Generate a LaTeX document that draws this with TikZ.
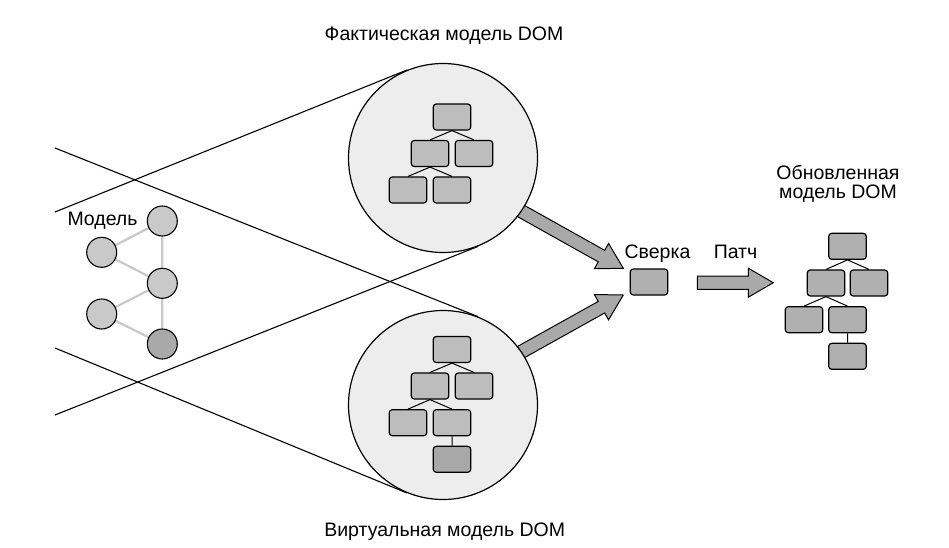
\documentclass[tikz,border=0pt]{standalone}
\usepackage{fontspec}
\setmainfont{Liberation Sans}
\usetikzlibrary{calc,backgrounds}
\definecolor{circfill}{HTML}{EDEDED}
\definecolor{boxfill}{HTML}{BDBDBD}
\definecolor{boxdark}{HTML}{A8A8A8}
\definecolor{updfill}{HTML}{B0B0B0}
\definecolor{arrfill}{HTML}{A9A9A9}
\definecolor{modfill}{HTML}{C9C9C9}
\definecolor{moddark}{HTML}{A9A9A9}
\definecolor{edgegray}{HTML}{C8C8C8}
\newcommand\blkarrow[2]{%
  \path ($(#2)!25pt!(#1)$) coordinate (hb#1);
  \draw[arrowst] ($(#1)!6.6pt!90:(#2)$) -- ($(hb#1)!6.6pt!90:(#2)$) -- ($(hb#1)!14.5pt!90:(#2)$) -- (#2)
    -- ($(hb#1)!14.5pt!-90:(#2)$) -- ($(hb#1)!6.6pt!-90:(#2)$) -- ($(#1)!6.6pt!-90:(#2)$) -- cycle;
}
\begin{document}
\begin{tikzpicture}[x=1pt,y=-1pt,
  lbl/.style={font=\fontsize{19.5}{18.4}\selectfont, inner sep=0, anchor=base},
  lens/.style={circle, draw, line width=1.2pt, fill=circfill, minimum size=189pt, inner sep=0},
  dbox/.style={draw, line width=1.2pt, rounded corners=3pt, fill=boxfill, minimum width=37.5pt, minimum height=26pt, inner sep=0},
  tline/.style={line width=1.1pt},
  tree/.style={line width=1pt},
  mnode/.style={circle, draw, line width=1.1pt, fill=modfill, minimum size=30pt, inner sep=0},
  medge/.style={draw=edgegray, line width=2.2pt},
  arrowst/.style={draw, line width=1pt, fill=arrfill, line join=miter},
]
\useasboundingbox (0,0) rectangle (949,547);

% lens circles (positions only, drawn later)
\path node[lens, draw=none, fill=none] (top) at (443,158) {}
      node[lens, draw=none, fill=none] (bot) at (443,405) {};

% start points of tangent lines
\coordinate (s1) at (55,148);
\coordinate (s2) at (55,212);
\coordinate (s3) at (55,348);
\coordinate (s4) at (55,415);
\draw[tline] (s1) -- (tangent cs:node=bot,point={(s1)},solution=2);
\draw[tline] (s2) -- (tangent cs:node=top,point={(s2)},solution=2);
\draw[tline] (s3) -- (tangent cs:node=bot,point={(s3)},solution=1);
\draw[tline] (s4) -- (tangent cs:node=top,point={(s4)},solution=1);

% fat arrows to Сверка
\coordinate (ta) at (496,197);
\coordinate (tb) at (623.3,268.3);
\coordinate (ba) at (496,366);
\coordinate (bb) at (623.3,295);
\blkarrow{ta}{tb}
\blkarrow{ba}{bb}

% lens circles
\node[lens] (topc) at (443,158) {};
\node[lens] (botc) at (443,405) {};

% tree in top circle
\node[dbox] (t1) at (452,117) {};
\node[dbox] (t2) at (430,153.5) {};
\node[dbox] (t3) at (474,153.5) {};
\node[dbox] (t4) at (408,190) {};
\node[dbox] (t5) at (452,190) {};
\draw[tree] (t1.south) -- (t2.north) (t1.south) -- (t3.north)
            (t2.south) -- (t4.north) (t2.south) -- (t5.north);

% tree in bottom circle
\node[dbox] (b1) at (452,349.5) {};
\node[dbox] (b2) at (430,386) {};
\node[dbox] (b3) at (474,386) {};
\node[dbox] (b4) at (408,422.7) {};
\node[dbox] (b5) at (452,422.7) {};
\node[dbox, fill=boxdark] (b6) at (452,459.3) {};
\draw[tree] (b1.south) -- (b2.north) (b1.south) -- (b3.north)
            (b2.south) -- (b4.north) (b2.south) -- (b5.north)
            (b5.south) -- (b6.north);

% model graph
\node[mnode] (m1) at (162.3,221) {};
\node[mnode] (m2) at (101.7,252.3) {};
\node[mnode] (m3) at (162.3,283.3) {};
\node[mnode] (m4) at (101.7,314) {};
\node[mnode, fill=moddark] (m5) at (162.3,344) {};
\begin{pgfonlayer}{background}
\path[medge] (m1) -- (m2) (m2) -- (m3) (m1) -- (m3) (m3) -- (m4) (m4) -- (m5) (m3) -- (m5);
\end{pgfonlayer}
\node[lbl] (mlab) at (102.5,225) {Модель};

% Сверка
\node[dbox, fill=updfill] (sv) at (649,282) {};
\node[lbl] (svlab) at (657.5,258) {Сверка};

% Патч arrow
\coordinate (pa) at (697.3,282.7);
\coordinate (pb) at (773.3,282.7);
\blkarrow{pa}{pb}
\node[lbl] (plab) at (735.5,258) {Патч};

% updated DOM
\node[lbl, align=center] (ulab) at (838,198.3) {Обновленная\\модель DOM};
\node[dbox, fill=updfill] (u1) at (847.5,246.3) {};
\node[dbox, fill=updfill] (u2) at (826,283) {};
\node[dbox, fill=updfill] (u3) at (869,283) {};
\node[dbox, fill=updfill] (u4) at (804,319.7) {};
\node[dbox, fill=updfill] (u5) at (847.5,319.7) {};
\node[dbox, fill=updfill] (u6) at (847.5,356.3) {};
\draw[tree] (u1.south) -- (u2.north) (u1.south) -- (u3.north)
            (u2.south) -- (u4.north) (u2.south) -- (u5.north)
            (u5.south) -- (u6.north);

% titles
\node[lbl] (title1) at (444,40) {Фактическая модель DOM};
\node[lbl] (title2) at (444.7,536.7) {Виртуальная модель DOM};
\end{tikzpicture}
\end{document}
